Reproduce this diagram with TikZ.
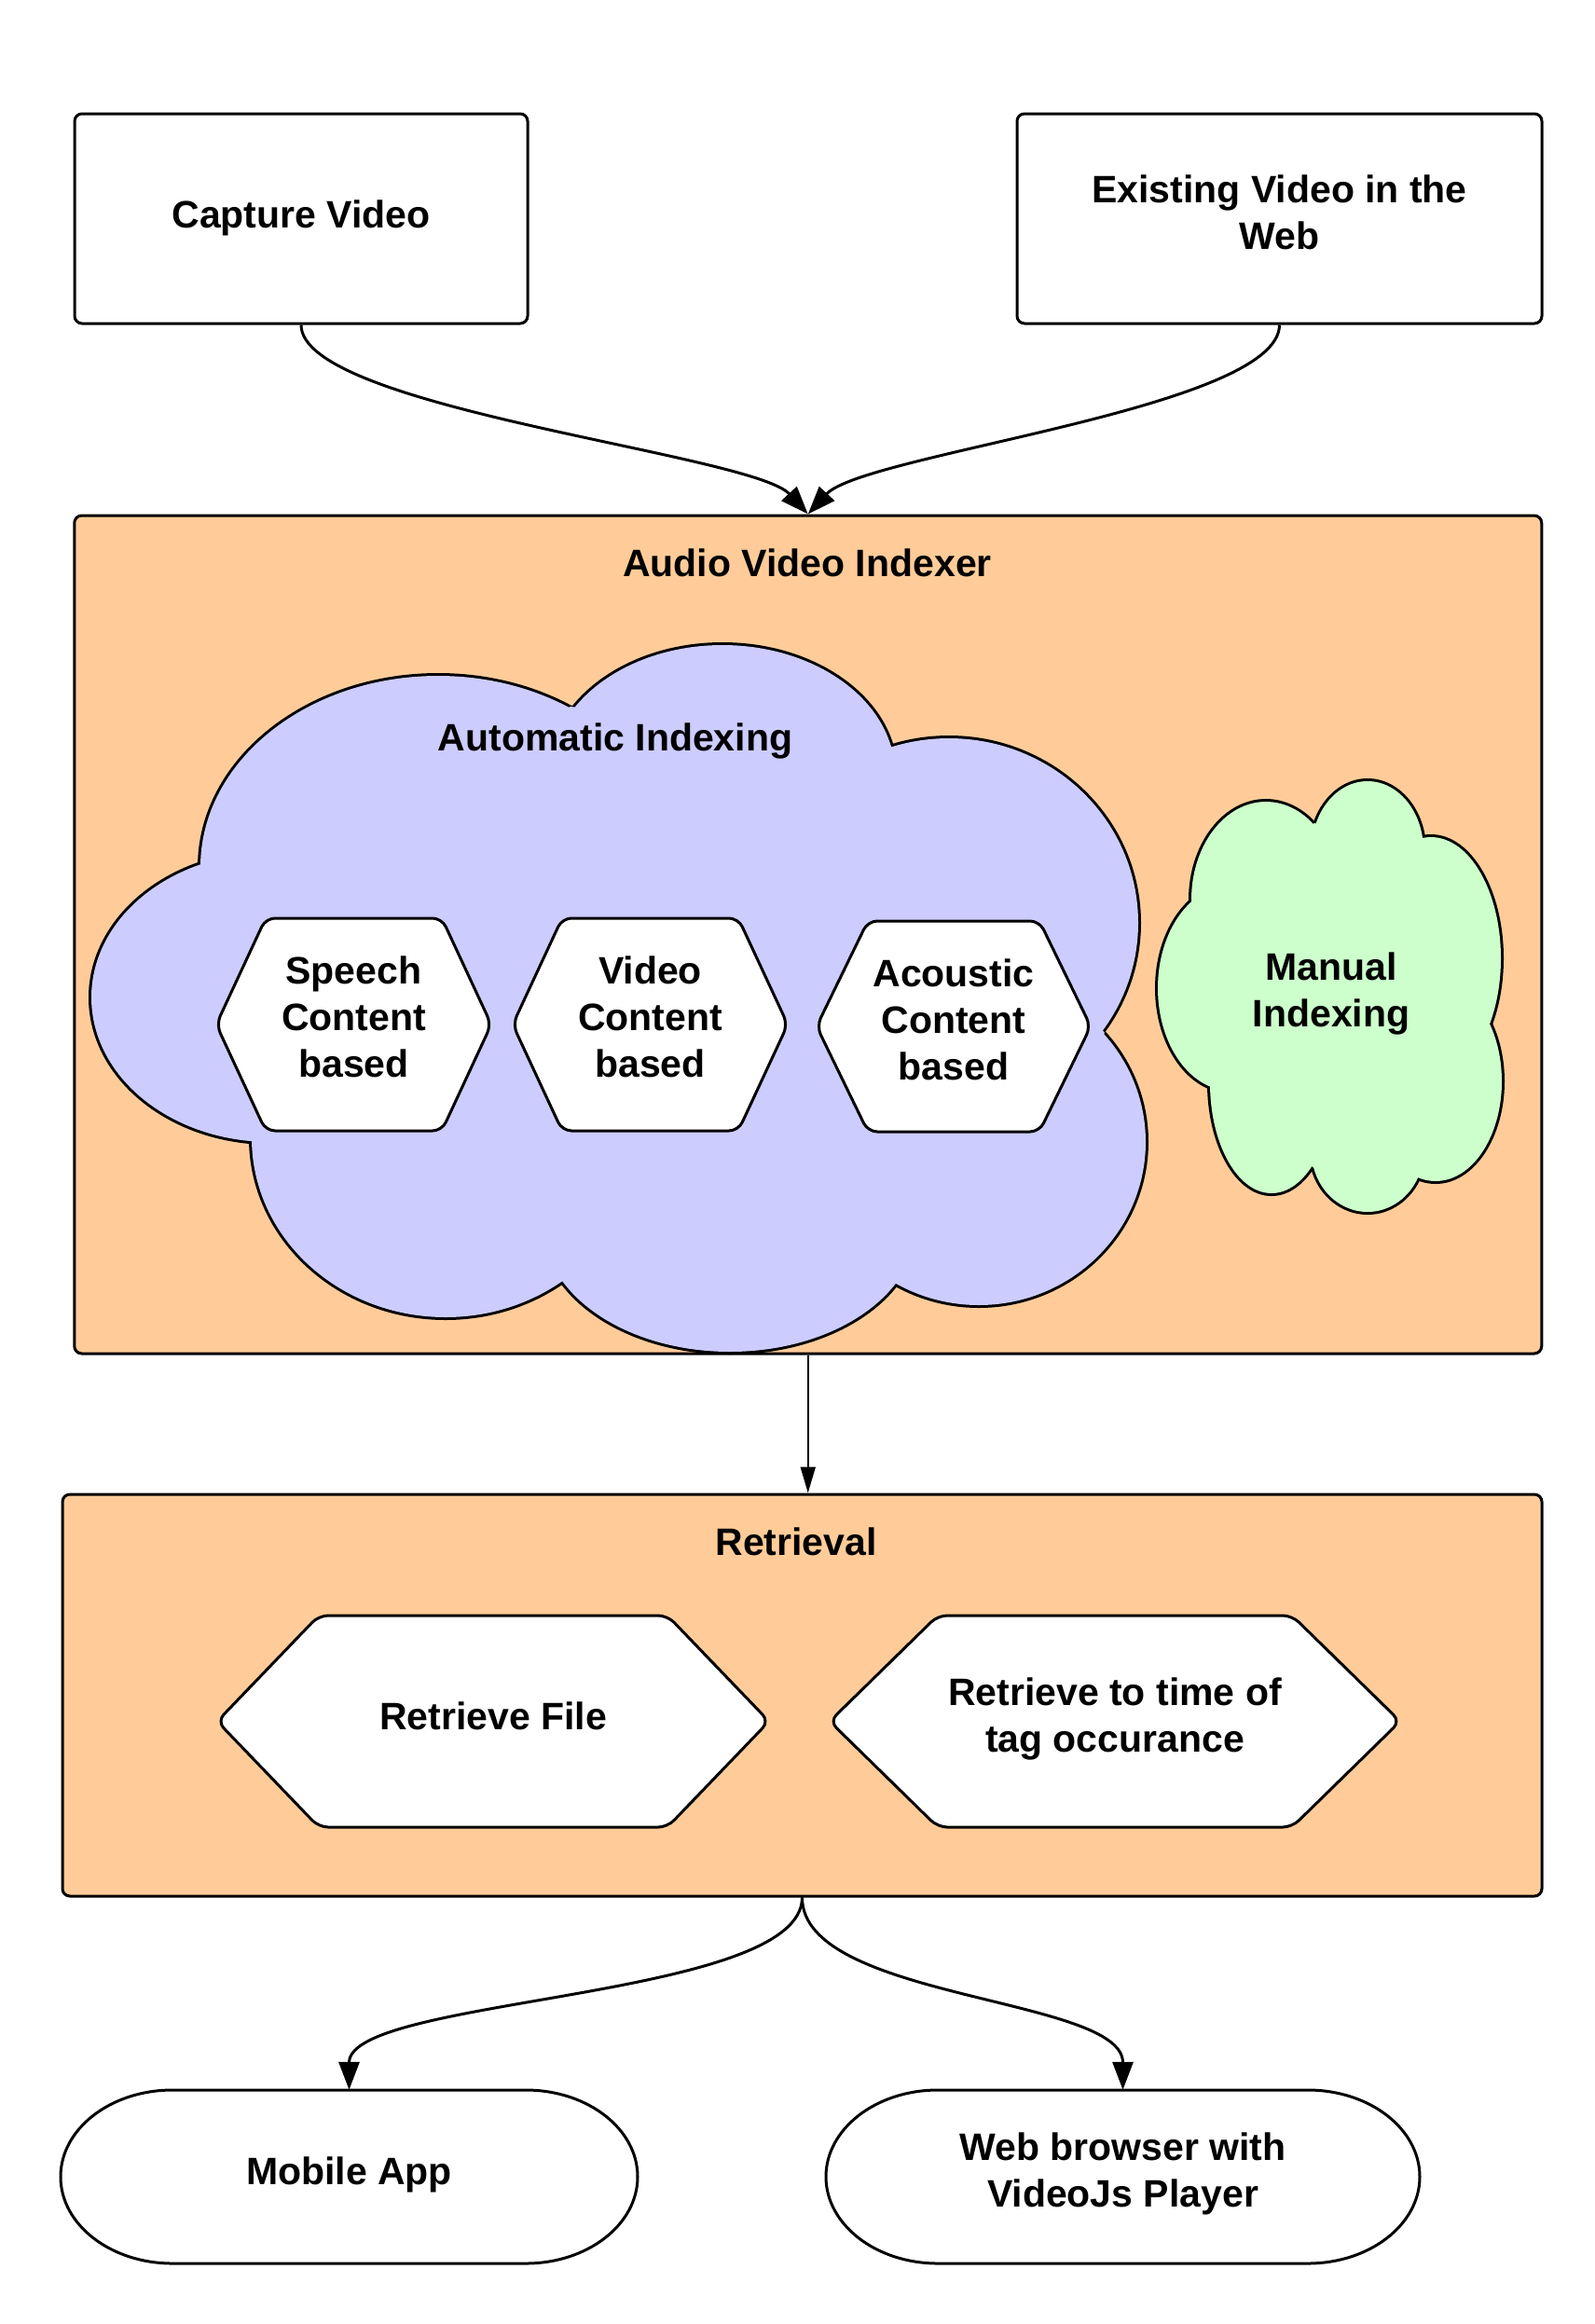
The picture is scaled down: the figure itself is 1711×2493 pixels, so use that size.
\documentclass[tikz,border=0pt]{standalone}
\usepackage{fontspec}
\setmainfont{Liberation Sans}
\usetikzlibrary{arrows.meta}
\definecolor{orng}{HTML}{FFCC99}
\definecolor{cblue}{HTML}{CCCCFF}
\definecolor{cgreen}{HTML}{CCFFCC}
\newcommand\hexa[5]{\draw[hexs] (#1-#3,#2) -- (#1-#3+#5,#2-#4) -- (#1+#3-#5,#2-#4) -- (#1+#3,#2) -- (#1+#3-#5,#2+#4) -- (#1-#3+#5,#2+#4) -- cycle;}
\newcommand\stad[5]{\draw[line width=3pt] (#1+#5,#2) -- (#3-#5,#2) arc[start angle=-90,end angle=90,x radius=#5,y radius={(#4-#2)/2}] -- (#1+#5,#4) arc[start angle=90,end angle=270,x radius=#5,y radius={(#4-#2)/2}] -- cycle;}
\begin{document}
\begin{tikzpicture}[x=1pt,y=-1pt,
  lbl/.style={font=\fontsize{41}{50}\selectfont\bfseries, align=center, inner sep=0pt},
  box/.style={draw, line width=3pt, rounded corners=8pt, inner sep=0pt},
  hexs/.style={draw, fill=white, line width=3pt, rounded corners=10pt},
  conn/.style={line width=3pt, -{Triangle[length=30pt,width=22pt]}},
  conn2/.style={line width=2pt, -{Triangle[length=28pt,width=16pt]}}]
\useasboundingbox (0,0) rectangle (1711,2493);

% top boxes
\node[box, minimum width=486pt, minimum height=225pt] (cap) at (323,234.5) {};
\node[lbl] (capt) at (323,234) {Capture Video};
\node[box, minimum width=563pt, minimum height=225pt] (web) at (1372.5,234.5) {};
\node[lbl] (webt) at (1372.5,228) {Existing Video in the\\Web};

% indexer
\node[box, fill=orng, minimum width=1574pt, minimum height=899pt] (avi) at (866.75,1002.5) {};
\node[lbl] (avit) at (866,604) {Audio Video Indexer};

% blue cloud
\foreach \cx/\cy/\rx/\ry in {470/930/255/205, 775/830/185/138, 1018/990/203/198, 1050/1225/179/175, 783/1315/200/135, 478/1221/208/192, 290/1070/192/155}
  \draw[line width=6pt] (\cx,\cy) ellipse[x radius=\rx, y radius=\ry];
\foreach \cx/\cy/\rx/\ry in {470/930/255/205, 775/830/185/138, 1018/990/203/198, 1050/1225/179/175, 783/1315/200/135, 478/1221/208/192, 290/1070/192/155}
  \fill[cblue] (\cx,\cy) ellipse[x radius=\rx, y radius=\ry];
\fill[cblue] (216,922) -- (612,758) -- (954,798) -- (1185,1108) -- (954,1375) -- (612,1377) -- (270,1221) -- cycle;
\node[lbl] (auto) at (660,795) {Automatic Indexing};

% green cloud
\foreach \cx/\cy/\rx/\ry in {1358/965/80/105, 1467/912/60/74, 1535/1028/75/130, 1540/1160/71/107, 1467/1235/60/65, 1364/1162/66/118, 1320/1060/78/110}
  \draw[line width=6pt] (\cx,\cy) ellipse[x radius=\rx, y radius=\ry];
\foreach \cx/\cy/\rx/\ry in {1358/965/80/105, 1467/912/60/74, 1535/1028/75/130, 1540/1160/71/107, 1467/1235/60/65, 1364/1162/66/118, 1320/1060/78/110}
  \fill[cgreen] (\cx,\cy) ellipse[x radius=\rx, y radius=\ry];
\fill[cgreen] (1280,980) -- (1410,883) -- (1522,905) -- (1598,1092) -- (1522,1253) -- (1412,1255) -- (1298,1162) -- cycle;
\node[lbl] (man) at (1428,1066) {Manual\\Indexing};

% hexagons in cloud
\hexa{379.5}{1099}{147.5}{114}{53}
\node[lbl] (sp) at (379.5,1091) {Speech\\Content\\based};
\hexa{697.5}{1099}{147.5}{114}{53}
\node[lbl] (vi) at (697.5,1091) {Video\\Content\\based};
\hexa{1023}{1101}{147}{113}{55}
\node[lbl] (ac) at (1023,1094) {Acoustic\\Content\\based};

% retrieval
\node[box, fill=orng, minimum width=1587pt, minimum height=431pt] (ret) at (860.5,1818.5) {};
\node[lbl] (rett) at (854,1654) {Retrieval};
\hexa{529}{1846.5}{296}{113.5}{109}
\node[lbl] (rf) at (529,1841) {Retrieve File};
\hexa{1196}{1846.5}{306}{113.5}{116}
\node[lbl] (rt) at (1196,1844) {Retrieve to time of\\tag occurance};

% bottom terminals
\node[minimum width=619pt, minimum height=186pt, inner sep=0pt] (mob) at (374.5,2335) {};
\node[lbl] (mobt) at (374.5,2333) {Mobile App};
\stad{65}{2242}{684}{2428}{120}
\node[minimum width=637pt, minimum height=186pt, inner sep=0pt] (wb) at (1204.5,2335) {};
\node[lbl] (wbt) at (1204.5,2332) {Web browser with\\VideoJs Player};
\stad{886}{2242}{1523}{2428}{120}

% connectors
\draw[conn] (cap.south) .. controls +(0,90) and +(-60,-65) .. (avi.north);
\draw[conn] (web.south) .. controls +(0,90) and +(60,-65) .. (avi.north);
\draw[conn2] (avi.south) -- (avi.south |- ret.north);
\draw[conn] (ret.south) .. controls +(0,110) and +(0,-100) .. (mob.north);
\draw[conn] (ret.south) .. controls +(0,110) and +(0,-100) .. (wb.north);
\end{tikzpicture}
\end{document}
